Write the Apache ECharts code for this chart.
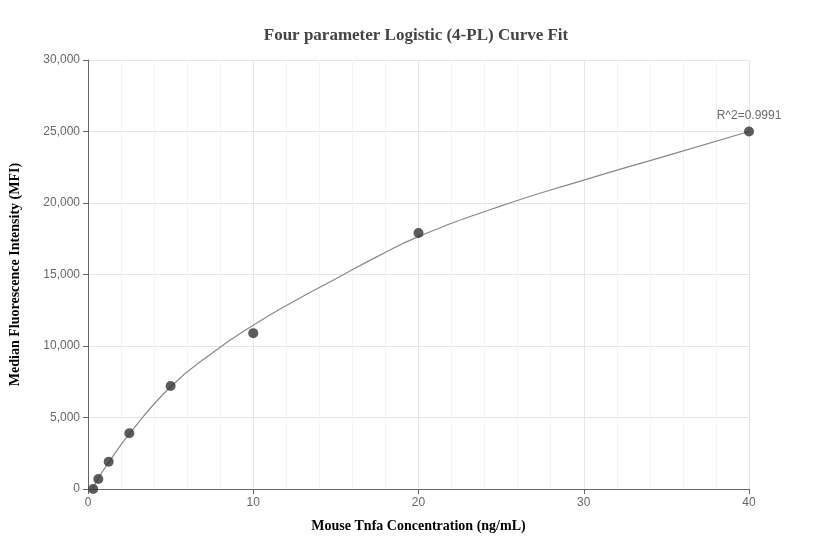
<!DOCTYPE html><html><head><meta charset="utf-8"><script src="https://cdn.jsdelivr.net/npm/echarts@6/dist/echarts.min.js"></script></head><body style="margin:0"><div id="c" style="width:832px;height:560px"></div><script>
const pointX=[0.3125,0.625,1.25,2.5,5,10,20,40];
const pointY=[0,700,1900,3900,7200,10900,17900,25000];
const curveX=[0.3,0.625,1.25,2.5,5,7.5,10,12.5,15,17.5,20,25,30,35,40];
const curveY=[30,750,1850,3850,7150,9500,11450,13150,14700,16250,17650,19800,21600,23300,25000];
const c=echarts.init(document.getElementById('c'));
const ser=(xs,ys)=>xs.map((x,i)=>[x,ys[i]]);
c.setOption({
 title:{text:'Four parameter Logistic (4-PL) Curve Fit',left:'center',top:22,textStyle:{fontFamily:'Liberation Serif',fontWeight:'bold',fontSize:17,color:'#444'}},
 grid:{left:83,right:83,top:60,bottom:71},
 xAxis:{type:'value',min:0,max:40,interval:10,name:'Mouse Tnfa Concentration (ng/mL)',nameLocation:'middle',nameGap:30,
  nameTextStyle:{fontFamily:'Liberation Serif',fontWeight:'bold',fontSize:14,color:'#000'},
  axisLine:{lineStyle:{color:'#666'}},axisTick:{show:true,lineStyle:{color:'#666'}},axisLabel:{color:'#666',fontSize:12},
  splitLine:{show:true,lineStyle:{color:'#e6e6e6'}},minorTick:{show:false,splitNumber:5},minorSplitLine:{show:true,lineStyle:{color:'#f3f3f3'}}},
 yAxis:{type:'value',min:0,max:30000,interval:5000,name:'Median Fluorescence Intensity (MFI)',nameLocation:'middle',nameGap:66,
  nameTextStyle:{fontFamily:'Liberation Serif',fontWeight:'bold',fontSize:14,color:'#000'},
  axisLine:{show:true,lineStyle:{color:'#666'}},axisTick:{show:true,lineStyle:{color:'#666'}},
  axisLabel:{color:'#666',fontSize:12,formatter:v=>v.toLocaleString('en-US')},
  splitLine:{lineStyle:{color:'#e6e6e6'}}},
 series:[
  {type:'line',data:ser(curveX,curveY),smooth:true,symbol:'none',lineStyle:{color:'#888',width:1.2},z:1},
  {type:'scatter',data:ser(pointX,pointY),symbolSize:10,itemStyle:{color:'#333'},z:2,
   label:{show:true,position:'top',color:'#444',fontSize:12,formatter:p=>p.dataIndex===pointX.length-1?'R^2=0.9991':''}}
 ]});
</script></body></html>
